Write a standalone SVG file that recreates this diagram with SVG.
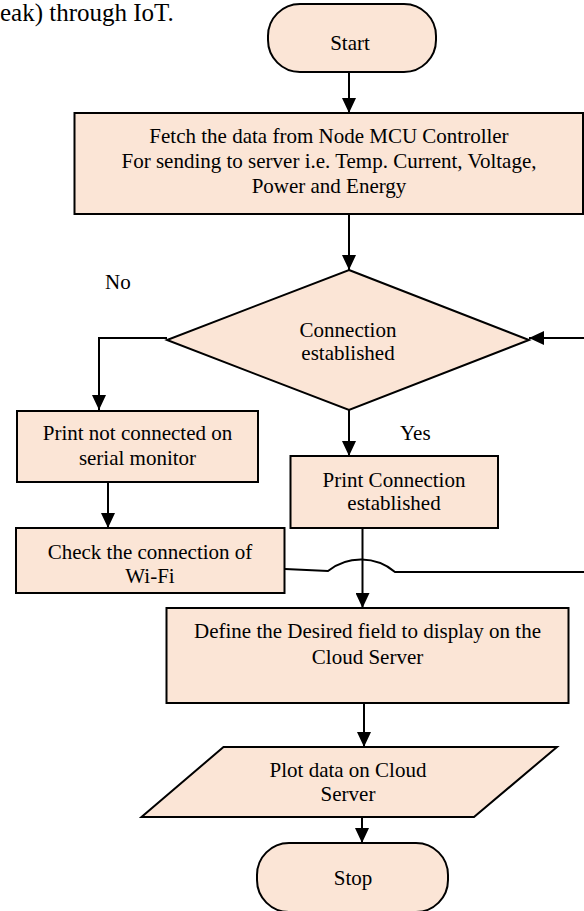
<svg xmlns="http://www.w3.org/2000/svg" width="584" height="911" viewBox="0 0 584 911">
  <style>
    .shape { fill: #FBE5D6; stroke: #000; stroke-width: 2; }
    .wire { fill: none; stroke: #000; stroke-width: 2; }
    text { font-family: "Liberation Serif", "Times New Roman", serif; font-size: 21px; fill: #000; }
    .c { text-anchor: middle; }
  </style>
  <defs>
    <marker id="arrow" viewBox="0 0 15 14" refX="15" refY="7" markerWidth="15" markerHeight="14" markerUnits="userSpaceOnUse" orient="auto">
      <path d="M0,0 L15,7 L0,14 z" fill="#000"/>
    </marker>
  </defs>

  <rect width="584" height="911" fill="#fff"/>

  <!-- trailing sentence of the preceding paragraph -->
  <text x="0" y="21" style="font-size:25px">eak) through IoT.</text>

  <!-- connectors -->
  <g id="connectors">
    <line class="wire" x1="349" y1="72" x2="349" y2="113" marker-end="url(#arrow)"/>
    <line class="wire" x1="349" y1="214" x2="349" y2="270" marker-end="url(#arrow)"/>
    <polyline class="wire" points="167,338 99,338 99,410" marker-end="url(#arrow)"/>
    <line class="wire" x1="349" y1="410" x2="349" y2="456" marker-end="url(#arrow)"/>
    <line class="wire" x1="108" y1="482" x2="108" y2="528" marker-end="url(#arrow)"/>
    <line class="wire" x1="362.5" y1="528" x2="362.5" y2="608" marker-end="url(#arrow)"/>
    <line class="wire" x1="364" y1="703" x2="364" y2="747" marker-end="url(#arrow)"/>
    <line class="wire" x1="362" y1="817" x2="362" y2="843" marker-end="url(#arrow)"/>
    <!-- loop back from Wi-Fi check to the decision, hopping over the vertical flow -->
    <path class="wire" d="M285,569 L328,571 A53,53 0 0 1 395,572 L584,572"/>
    <line class="wire" x1="584" y1="338" x2="529" y2="338" marker-end="url(#arrow)"/>
  </g>

  <g id="start">
    <rect class="shape" x="268" y="4" width="168" height="68" rx="32" ry="32"/>
    <text class="c" x="350" y="50">Start</text>
  </g>

  <g id="fetch">
    <rect class="shape" x="74.5" y="113" width="508.5" height="101"/>
    <text class="c" x="329" y="143">Fetch the data from Node MCU Controller</text>
    <text class="c" x="329" y="168">For sending to server i.e. Temp. Current, Voltage,</text>
    <text class="c" x="329" y="193">Power and Energy</text>
  </g>

  <g id="decision">
    <polygon class="shape" points="349,270 529,340 349,410 167,340"/>
    <text class="c" x="348" y="337">Connection</text>
    <text class="c" x="348" y="360">established</text>
  </g>

  <g id="label-no">
    <text x="105" y="289">No</text>
  </g>
  <g id="label-yes">
    <text x="400" y="440">Yes</text>
  </g>

  <g id="print-not-connected">
    <rect class="shape" x="17" y="411" width="241" height="71"/>
    <text class="c" x="137.5" y="440">Print not connected on</text>
    <text class="c" x="137.5" y="465">serial monitor</text>
  </g>

  <g id="print-connected">
    <rect class="shape" x="290.5" y="456" width="207.5" height="72"/>
    <text class="c" x="394" y="487">Print Connection</text>
    <text class="c" x="394" y="510">established</text>
  </g>

  <g id="check-wifi">
    <rect class="shape" x="16" y="528" width="268.5" height="65"/>
    <text class="c" x="150" y="559">Check the connection of</text>
    <text class="c" x="150" y="583">Wi-Fi</text>
  </g>

  <g id="define-field">
    <rect class="shape" x="166.5" y="608" width="402" height="95"/>
    <text class="c" x="367.5" y="638">Define the Desired field to display on the</text>
    <text class="c" x="367.5" y="664">Cloud Server</text>
  </g>

  <g id="plot-data">
    <polygon class="shape" points="223.5,747 557,747 474,817 141.5,817"/>
    <text class="c" x="348" y="777">Plot data on Cloud</text>
    <text class="c" x="348" y="801">Server</text>
  </g>

  <g id="stop">
    <rect class="shape" x="257" y="843" width="191" height="69" rx="32" ry="32"/>
    <text class="c" x="353" y="885">Stop</text>
  </g>
</svg>
